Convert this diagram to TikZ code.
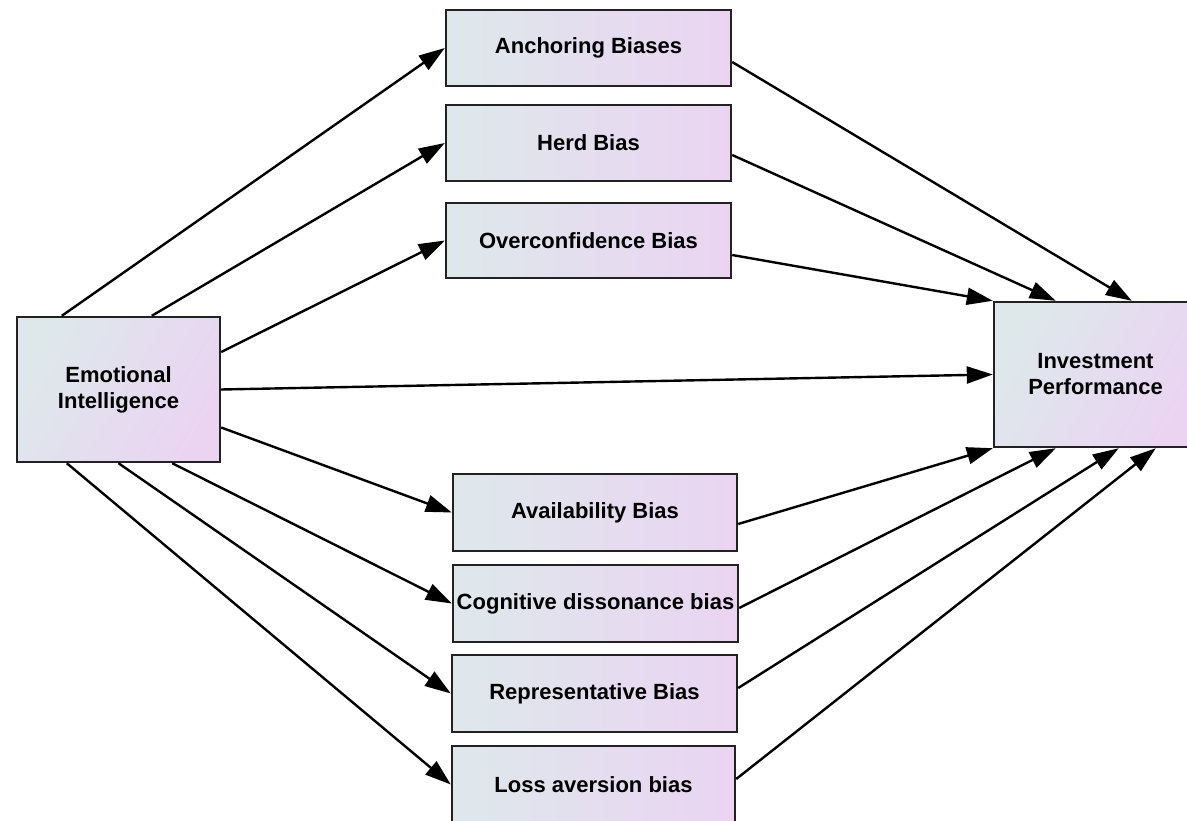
\documentclass[tikz,border=0pt]{standalone}
\usepackage{fontspec}
\setmainfont{Liberation Sans}
\usetikzlibrary{arrows.meta}
\definecolor{boxleft}{HTML}{DEE8EB}
\definecolor{boxright}{HTML}{EAD4F2}
\definecolor{boxedge}{HTML}{222222}
\begin{document}
\begin{tikzpicture}[x=1pt,y=-1pt,
  biasbox/.style={draw=boxedge, line width=2.4pt, left color=boxleft, right color=boxright,
    minimum width=285pt, minimum height=76pt, inner sep=0pt,
    font=\fontsize{22}{26}\selectfont\bfseries, text=black, align=center},
  mainbox/.style={biasbox, minimum width=203pt, minimum height=145pt, shading angle=60},
  link/.style={line width=2.4pt, -{Triangle[length=26pt, width=17pt]}}]
\useasboundingbox (0,0) rectangle (1187,821);

% outer constructs
\node[mainbox] (ei) at (118.5,389.5) {Emotional\\Intelligence};
\node[mainbox] (ip) at (1095.5,374.5) {Investment\\Performance};

% mediating biases
\node[biasbox] (anch) at (588.5,48) {Anchoring Biases};
\node[biasbox] (herd) at (588.5,143) {Herd Bias};
\node[biasbox, minimum height=75pt] (over) at (588.5,240.5) {Overconfidence Bias};
\node[biasbox, minimum width=284pt, minimum height=77pt] (avail) at (595,512.5) {Availability Bias};
\node[biasbox, minimum height=77pt] (cogn) at (595.5,603.5) {Cognitive dissonance bias};
\node[biasbox, minimum height=77pt] (repr) at (594.5,693.5) {Representative Bias};
\node[biasbox, minimum width=283pt, minimum height=77pt] (loss) at (593.5,784.5) {Loss aversion bias};

% emotional intelligence to each bias
\draw[link] ([xshift=46pt]ei.north west) -- (anch.west);
\draw[link] ([xshift=136pt]ei.north west) -- (herd.west);
\draw[link] ([yshift=37.5pt]ei.east) -- (over.west);
\draw[link] (ei.east) -- (ip.west);
\draw[link] ([yshift=-38pt]ei.east) -- (avail.west);
\draw[link] ([xshift=-49pt]ei.south east) -- (cogn.west);
\draw[link] (ei.south) -- (repr.west);
\draw[link] ([xshift=51pt]ei.south west) -- (loss.west);

% each bias to investment performance
\draw[link] ([yshift=-14pt]anch.east) -- ([xshift=139pt]ip.north west);
\draw[link] ([yshift=-12pt]herd.east) -- ([xshift=63pt]ip.north west);
\draw[link] ([yshift=-14.5pt]over.east) -- (ip.north west);
\draw[link] ([yshift=-11.5pt]avail.east) -- (ip.south west);
\draw[link] ([yshift=-4.5pt]cogn.east) -- ([xshift=63pt]ip.south west);
\draw[link] ([yshift=5.5pt]repr.east) -- ([xshift=126pt]ip.south west);
\draw[link] ([yshift=5.5pt]loss.east) -- ([xshift=163pt]ip.south west);
\end{tikzpicture}
\end{document}
